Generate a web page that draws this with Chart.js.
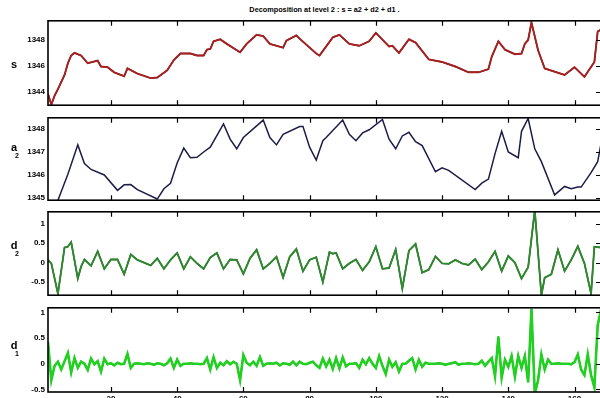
<!DOCTYPE html>
<html>
<head>
<meta charset="utf-8">
<script src="https://cdn.jsdelivr.net/npm/chart.js@4.4.1/dist/chart.umd.min.js"></script>
<style>
  html, body { margin: 0; padding: 0; background: #fff; }
  body { width: 600px; height: 398px; overflow: hidden; position: relative; }
  canvas { position: absolute; left: 0; }
  #title {
    position: absolute; top: 5px; left: 48px; width: 553px;
    text-align: center; font: bold 7.3px "Liberation Sans", Arial, sans-serif; color: #000;
  }
</style>
</head>
<body>
<div id="title">Decomposition at level 2 : s = a2 + d2 + d1 .</div>
<script>
// --- sample range and shared x ticks ---
const xMin = 1, xMax = 168;
const xTicks = [20, 40, 60, 80, 100, 120, 140, 160];

// --- signal s (sample index, value) ---
const sIdx = [1, 2, 3, 4, 6, 7, 8, 9, 11, 13, 16, 17, 19, 21, 24, 25, 28, 32, 34, 37, 39, 41, 44, 46, 48, 49, 50, 51, 53, 55,
  59, 61, 64, 66, 68, 72, 73, 76, 77, 82, 83, 87, 89, 92, 95, 98, 100, 104, 105, 107, 110, 112, 116, 120, 124, 128, 131, 134, 135, 137,
  139, 142, 144, 145, 146, 147, 149, 151, 157, 160, 163, 166, 167, 168];
const sVal = [1343.85, 1343.0, 1343.7, 1344.2, 1345.3, 1346.2, 1346.8, 1347.0, 1346.8, 1346.2, 1346.4, 1345.95, 1345.9, 1345.5, 1345.2, 1345.8, 1345.4, 1345.05, 1345.1, 1345.65,
  1346.45, 1346.95, 1346.95, 1346.8, 1346.8, 1347.25, 1347.3, 1347.9, 1348.05, 1347.7,
  1347.05, 1347.7, 1348.4, 1348.3, 1347.7, 1347.4, 1347.95, 1348.35, 1348.1, 1346.95, 1346.8, 1348.2, 1348.4, 1347.7, 1347.55, 1347.9, 1348.55, 1347.5, 1347.55, 1347.0,
  1348.05, 1347.8, 1346.5, 1346.3, 1345.95, 1345.5, 1345.5, 1345.75, 1346.7, 1347.9,
  1347.25, 1346.9, 1346.95, 1347.7, 1348.0, 1349.35, 1347.2, 1345.8, 1345.3, 1345.9, 1345.15, 1346.3, 1348.65, 1348.8];

// --- approximation a2 ---
const a2Idx = [1, 4, 7, 10, 12, 14, 18, 22, 24, 26, 28, 34, 36, 38, 40, 42, 44, 46, 48, 50, 54, 56, 58, 60, 66, 68, 70, 72, 77, 78,
  80, 82, 84, 85, 90, 92, 94, 96, 98, 102, 104, 106, 108, 110, 112, 114, 118, 120, 122, 130, 132, 134, 136, 138, 140, 143, 144, 146, 148, 150,
  154, 157, 159, 161, 162, 165, 167, 168];
const a2Val = [1343.8, 1344.9, 1346.03, 1347.31, 1346.5, 1346.24, 1346.0, 1345.33, 1345.57, 1345.58, 1345.36, 1344.95, 1345.4, 1345.64, 1346.52, 1347.17, 1346.75, 1346.77, 1347.0, 1347.21,
  1348.22, 1347.56, 1347.14, 1347.63, 1348.39, 1347.63, 1347.31, 1347.77, 1348.11, 1348.11,
  1347.21, 1346.65, 1347.49, 1347.63, 1348.39, 1347.77, 1347.49, 1347.83, 1347.97, 1348.42, 1347.56, 1347.14, 1347.7, 1347.86, 1347.45, 1347.28, 1346.14, 1346.31, 1346.2,
  1345.36, 1345.64, 1345.82, 1346.93, 1347.9, 1347.0, 1346.75, 1347.9, 1348.46, 1347.14, 1346.58,
  1345.13, 1345.5, 1345.4, 1345.47, 1345.47, 1346.1, 1346.58, 1347.35];

// --- detail d2 ---
const d2Idx = [1, 2, 4, 6, 7, 8, 10, 11, 12, 14, 16, 18, 20, 22, 24, 26, 28, 32, 34, 36, 38, 40, 42, 44, 46, 48, 50, 52, 54, 56,
  58, 60, 62, 64, 66, 68, 70, 72, 74, 76, 78, 80, 82, 84, 86, 87, 88, 90, 92, 94, 96, 98, 100, 102, 104, 106, 108, 110, 112, 114,
  116, 118, 120, 122, 124, 126, 128, 130, 132, 134, 136, 138, 140, 142, 144, 146, 148, 150, 151, 153, 155, 157, 159, 161, 163, 165, 166, 168];
const d2Val = [0.07, -0.02, -0.8, 0.39, 0.41, 0.53, -0.41, -0.1, 0.08, -0.08, 0.29, -0.16, 0.08, 0.08, -0.3, 0.21, 0.07, -0.07, 0.11, -0.16,
  0.07, 0.25, -0.16, 0.15, -0.02, -0.16, 0.13, 0.25, -0.16, 0.08,
  0.07, -0.29, 0.11, 0.33, -0.16, -0.02, 0.15, -0.38, 0.15, 0.35, -0.22, 0.07, 0.14, -0.5, 0.27, 0.23, 0.25, -0.16, -0.02, 0.08,
  -0.2, 0.02, 0.41, -0.16, -0.14, 0.34, -0.67, 0.31, 0.48, -0.26,
  -0.18, 0.16, -0.02, -0.03, 0.07, -0.02, -0.06, 0.09, -0.18, 0.02, 0.29, -0.22, 0.17, 0.0, -0.41, -0.12, 1.35, -0.84, -0.39, -0.3,
  0.33, -0.22, 0.07, 0.42, -0.02, -0.8, 0.41, 0.39];

// --- detail d1, one value per sample 1..168 ---
const d1Val = [
  0.42, -0.32, -0.04, 0.04, -0.11, 0.05, 0.21, -0.17, 0.11, -0.08,
  0.04, 0.0, -0.12, 0.10, -0.01, 0.05, -0.15, 0.10, -0.01, 0.01,
  -0.03, 0.02, -0.01, 0.0, 0.19, -0.08, 0.0, 0.01, 0.0, -0.01,
  0.01, 0.0, -0.02, 0.01, 0.0, -0.03, 0.01, 0.10, -0.08, 0.08,
  -0.04, 0.0, 0.0, 0.01, 0.0, 0.0, -0.01, 0.0, 0.11, -0.11,
  0.13, -0.08, 0.02, -0.03, 0.05, -0.01, 0.04, 0.0, -0.32, 0.17,
  0.02, -0.03, 0.04, -0.04, 0.13, -0.04, 0.0, 0.01, 0.0, 0.02,
  -0.03, 0.01, 0.0, -0.02, 0.04, -0.03, 0.04, 0.0, -0.01, 0.02,
  0.04, -0.03, -0.08, 0.10, -0.05, 0.08, -0.10, 0.11, -0.09, 0.12,
  -0.05, 0.0, 0.0, 0.01, -0.08, 0.08, -0.01, 0.11, 0.0, -0.08,
  0.15, -0.04, -0.20, 0.08, -0.06, 0.03, -0.15, 0.0, 0.0, 0.06,
  0.11, -0.11, 0.08, -0.06, 0.02, 0.0, 0.0, 0.0, 0.01, 0.0,
  -0.02, 0.0, 0.01, 0.03, -0.02, 0.0, 0.0, 0.01, 0.0, -0.01,
  0.0, 0.06, -0.04, 0.04, 0.11, -0.24, 0.53, -0.27, 0.08, -0.06,
  0.15, -0.25, 0.15, -0.08, 0.15, -0.36, 1.07, -0.58, -0.32, 0.18,
  -0.11, 0.08, 0.0, 0.0, 0.01, 0.0, 0.0, 0.0, -0.01, 0.03,
  0.18, -0.11, -0.22, 0.18, -0.22, -0.46, 0.75, 1.05
];
const d1Idx = d1Val.map((_, i) => i + 1);

// --- y ticks per panel ---
const sTicks = [1344, 1346, 1348];
const a2Ticks = [1345, 1346, 1347, 1348];
const d2Ticks = [-0.5, 0, 0.5, 1];
const d1Ticks = [-0.5, 0, 0.5, 1];

const FONT = '"Liberation Sans", Arial, sans-serif';
const points = (idx, vals) => idx.map((x, i) => ({ x, y: vals[i] }));

function lineSet(data, color, width) {
  return { data, borderColor: color, borderWidth: width, pointRadius: 0, tension: 0, fill: false };
}

// box, inward ticks and the row name on the left
const framePlugin = {
  id: "frame",
  afterDatasetsDraw(chart) {
    const { ctx, chartArea: a, scales: { x, y } } = chart;
    const cfg = chart.config.options.plugins.frame;
    ctx.save();
    ctx.strokeStyle = "#000";
    ctx.lineWidth = 1.6;
    ctx.strokeRect(a.left, a.top, a.right - a.left, a.bottom - a.top);
    ctx.lineWidth = 1.2;
    ctx.beginPath();
    xTicks.forEach(v => {
      const px = Math.round(x.getPixelForValue(v)) + 0.5;
      ctx.moveTo(px, a.top); ctx.lineTo(px, a.top + 5);
      ctx.moveTo(px, a.bottom); ctx.lineTo(px, a.bottom - 5);
    });
    y.ticks.forEach(t => {
      const py = Math.round(y.getPixelForValue(t.value)) + 0.5;
      ctx.moveTo(a.right, py); ctx.lineTo(a.right - 5, py);
    });
    ctx.stroke();

    ctx.fillStyle = "#000";
    ctx.textAlign = "center";
    ctx.textBaseline = "middle";
    ctx.font = "bold 11px " + FONT;
    const ly = cfg.labelY - chart.canvas.offsetTop;
    ctx.fillText(cfg.name, 14, ly);
    if (cfg.sub) {
      ctx.font = "bold 7px " + FONT;
      ctx.fillText(cfg.sub, 17, ly + 8);
    }
    ctx.restore();
  }
};

function makePanel(p) {
  const last = !!p.last;
  const cv = document.createElement("canvas");
  const h = last ? 120 : (p.bottom - p.top) + 12;
  cv.width = 601;
  cv.height = h;
  cv.style.top = (p.top - 6) + "px";
  document.body.appendChild(cv);

  const xScale = {
    type: "linear", min: xMin, max: xMax,
    display: last,
    afterBuildTicks: ax => { ax.ticks = xTicks.map(v => ({ value: v })); },
    grid: { display: false, drawTicks: false },
    border: { display: false },
    ticks: { font: { family: FONT, size: 8, weight: "bold" }, color: "#000", padding: 2, maxRotation: 0, autoSkip: false }
  };
  // only the bottom row carries x labels, with a fixed band below the box
  if (last) xScale.afterFit = ax => { ax.height = 28; };

  new Chart(cv.getContext("2d"), {
    type: "line",
    data: { datasets: p.datasets },
    options: {
      responsive: false,
      animation: false,
      layout: { padding: { top: 6, bottom: last ? 0 : 6, left: 0, right: 0 } },
      plugins: {
        legend: { display: false },
        tooltip: { enabled: false },
        frame: { name: p.name, sub: p.sub, labelY: p.labelY }
      },
      scales: {
        x: xScale,
        y: {
          min: p.min, max: p.max,
          afterBuildTicks: ax => { ax.ticks = p.ticks.map(v => ({ value: v })); },
          afterFit: ax => { ax.width = 48; },
          grid: { display: false, drawTicks: false },
          border: { display: false },
          ticks: { font: { family: FONT, size: 8, weight: "bold" }, color: "#000", padding: 3, autoSkip: false, callback: v => String(v) }
        }
      }
    },
    plugins: [framePlugin]
  });
}

makePanel({
  top: 19, bottom: 107, min: 1342.96, max: 1349.48, ticks: sTicks, name: "s", labelY: 65,
  datasets: [lineSet(points(sIdx, sVal), "#a82020", 1.9), lineSet(points(sIdx, sVal), "#1a0404", 1.4)]
});
makePanel({
  top: 116, bottom: 202, min: 1344.9, max: 1348.49, ticks: a2Ticks, name: "a", sub: "2", labelY: 148,
  datasets: [lineSet(points(a2Idx, a2Val), "#1c1c48", 1.5)]
});
makePanel({
  top: 210, bottom: 297, min: -0.84, max: 1.31, ticks: d2Ticks, name: "d", sub: "2", labelY: 246,
  datasets: [lineSet(points(d2Idx, d2Val), "#2f8a2f", 1.9), lineSet(points(d2Idx, d2Val), "#101a0a", 1.4)]
});
makePanel({
  top: 306, bottom: 392, min: -0.55, max: 1.09, ticks: d1Ticks, name: "d", sub: "1", labelY: 346, last: true,
  datasets: [lineSet(points(d1Idx, d1Val), "#22d022", 2.6), lineSet(points(d1Idx, d1Val), "#0a1a0a", 1.5)]
});
</script>
</body>
</html>
